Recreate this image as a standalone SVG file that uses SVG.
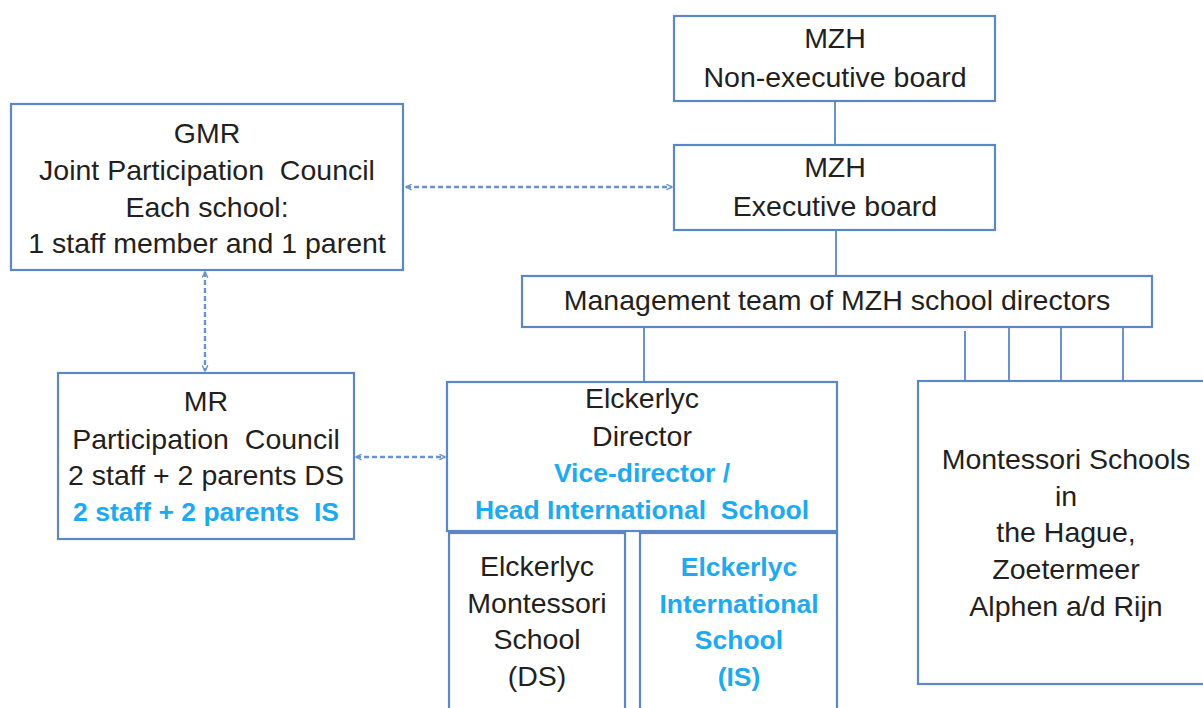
<svg xmlns="http://www.w3.org/2000/svg" width="1203" height="708" viewBox="0 0 1203 708">
  <style>
    .box { fill: #ffffff; stroke: #5b87c5; stroke-width: 2.2; }
    .line { fill: none; stroke: #6a93cc; stroke-width: 2; }
    .dash { fill: none; stroke: #6a93cc; stroke-width: 2.4; stroke-dasharray: 5 3; }
    text { font-family: "Liberation Sans", Arial, sans-serif; font-size: 28.5px; fill: #231f20; text-anchor: middle; white-space: pre; }
    .blue { fill: #1eaaf0; font-weight: bold; font-size: 26.5px; }
  </style>
  <defs>
    <marker id="chev" viewBox="0 0 10 10" refX="9" refY="5" markerWidth="7" markerHeight="7" orient="auto-start-reverse" markerUnits="userSpaceOnUse">
      <path d="M1,1 L9,5 L1,9" fill="none" stroke="#6a93cc" stroke-width="2"/>
    </marker>
  </defs>

  <rect width="1203" height="708" fill="#ffffff"/>

  <!-- connectors -->
  <g id="connectors">
    <line class="line" x1="835" y1="101" x2="835" y2="145"/>
    <line class="line" x1="836" y1="230" x2="836" y2="276"/>
    <line class="line" x1="644" y1="327" x2="644" y2="382"/>
    <line class="line" x1="965" y1="331" x2="965" y2="381"/>
    <line class="line" x1="1009" y1="327" x2="1009" y2="381"/>
    <line class="line" x1="1061" y1="327" x2="1061" y2="381"/>
    <line class="line" x1="1123" y1="327" x2="1123" y2="381"/>
    <line class="dash" x1="406" y1="187" x2="672" y2="187" marker-start="url(#chev)" marker-end="url(#chev)"/>
    <line class="dash" x1="205" y1="272" x2="205" y2="371" marker-start="url(#chev)" marker-end="url(#chev)"/>
    <line class="dash" x1="356" y1="457" x2="445" y2="457" marker-start="url(#chev)" marker-end="url(#chev)"/>
  </g>

  <g id="mzh-nonexec">
    <rect class="box" x="674" y="16" width="321" height="85"/>
    <text x="835" y="48">MZH</text>
    <text x="835" y="87">Non-executive board</text>
  </g>

  <g id="mzh-exec">
    <rect class="box" x="674" y="145" width="321" height="85"/>
    <text x="835" y="177">MZH</text>
    <text x="835" y="216">Executive board</text>
  </g>

  <g id="gmr">
    <rect class="box" x="11" y="104" width="392" height="166"/>
    <text x="207" y="143">GMR</text>
    <text x="207" y="180">Joint Participation  Council</text>
    <text x="207" y="217">Each school:</text>
    <text x="207" y="253">1 staff member and 1 parent</text>
  </g>

  <g id="management">
    <rect class="box" x="522" y="276" width="630" height="51"/>
    <text x="837" y="310">Management team of MZH school directors</text>
  </g>

  <g id="mr">
    <rect class="box" x="58" y="373" width="296" height="166"/>
    <text x="206" y="411">MR</text>
    <text x="206" y="449">Participation  Council</text>
    <text x="206" y="485">2 staff + 2 parents DS</text>
    <text class="blue" x="206" y="521">2 staff + 2 parents  IS</text>
  </g>

  <g id="elckerlyc">
    <rect class="box" x="447" y="382" width="390" height="149"/>
    <text x="642" y="408">Elckerlyc</text>
    <text x="642" y="446">Director</text>
    <text class="blue" x="642" y="482">Vice-director /</text>
    <text class="blue" x="642" y="519">Head International  School</text>
  </g>

  <g id="elckerlyc-ds">
    <rect class="box" x="449" y="533" width="176" height="190"/>
    <text x="537" y="576">Elckerlyc</text>
    <text x="537" y="613">Montessori</text>
    <text x="537" y="649">School</text>
    <text x="537" y="686">(DS)</text>
  </g>

  <g id="elckerlyc-is">
    <rect class="box" x="640" y="533" width="197" height="190"/>
    <text class="blue" x="739" y="576">Elckerlyc</text>
    <text class="blue" x="739" y="613">International</text>
    <text class="blue" x="739" y="649">School</text>
    <text class="blue" x="739" y="686">(IS)</text>
  </g>

  <g id="montessori-schools">
    <rect class="box" x="918" y="381" width="300" height="303"/>
    <text x="1066" y="469">Montessori Schools</text>
    <text x="1066" y="506">in</text>
    <text x="1066" y="542">the Hague,</text>
    <text x="1066" y="579">Zoetermeer</text>
    <text x="1066" y="616">Alphen a/d Rijn</text>
  </g>
</svg>
